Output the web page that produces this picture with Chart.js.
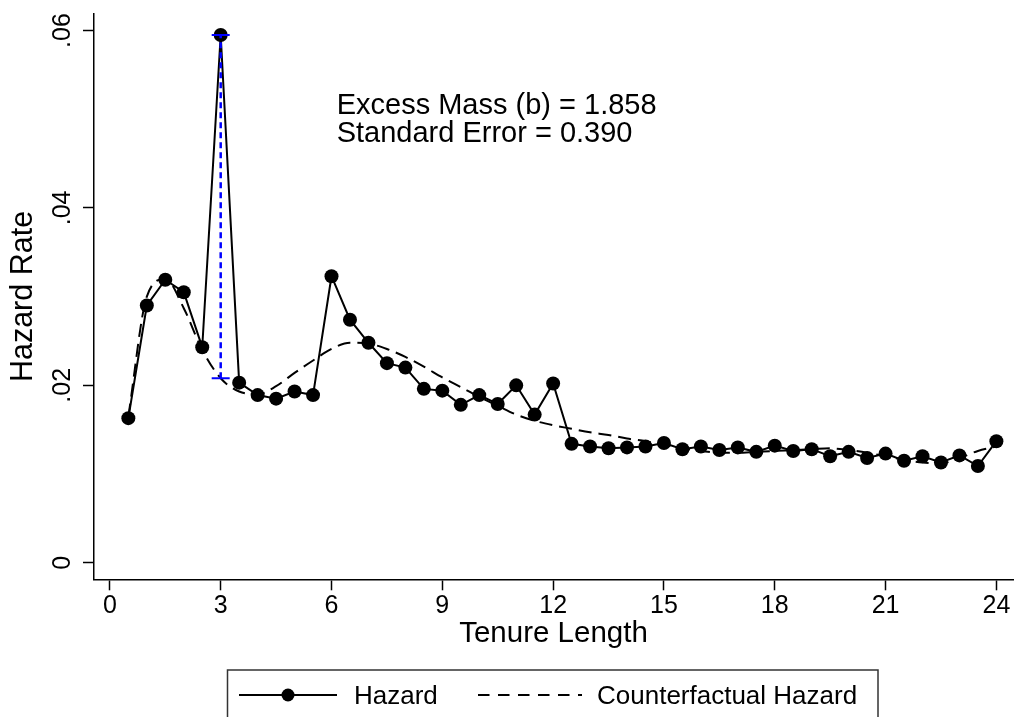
<!DOCTYPE html>
<html lang="en">
<head>
<meta charset="UTF-8">
<title>Hazard Rate by Tenure Length</title>
<script src="https://cdn.jsdelivr.net/npm/chart.js"></script>
<style>
  html, body { margin: 0; padding: 0; background: #fff; }
  .chart-box { width: 1016px; height: 717px; position: relative; }
</style>
</head>
<body>
<div class="chart-box"><canvas id="hazardChart"></canvas></div>
<script>
// tenure bins (x) and the two series
const tenure = [0.5, 1, 1.5, 2, 2.5, 3, 3.5, 4, 4.5, 5, 5.5, 6,
                6.5, 7, 7.5, 8, 8.5, 9, 9.5, 10, 10.5, 11, 11.5, 12,
                12.5, 13, 13.5, 14, 14.5, 15, 15.5, 16, 16.5, 17, 17.5, 18,
                18.5, 19, 19.5, 20, 20.5, 21, 21.5, 22, 22.5, 23, 23.5, 24];
const hazard = [0.0163, 0.0290, 0.0319, 0.0305, 0.0243, 0.0595, 0.0203, 0.0189, 0.0185, 0.0193, 0.0189, 0.0323,
                0.0274, 0.0248, 0.0225, 0.0220, 0.0196, 0.0194, 0.0178, 0.0189, 0.0179, 0.0200, 0.0167, 0.0202,
                0.0134, 0.0131, 0.0129, 0.0130, 0.0131, 0.0135, 0.0128, 0.0131, 0.0127, 0.0130, 0.0125, 0.0132,
                0.0126, 0.0128, 0.0120, 0.0125, 0.0118, 0.0123, 0.0115, 0.0120, 0.0113, 0.0121, 0.0109, 0.0137];
const counterfactual = [0.0165, 0.0300, 0.0320, 0.0287, 0.0240, 0.0208, 0.0193, 0.0190, 0.0199, 0.0214, 0.0228, 0.0241,
                        0.0248, 0.0247, 0.0241, 0.0232, 0.0221, 0.0209, 0.0198, 0.0187, 0.0177, 0.0167, 0.0160, 0.0155,
                        0.0151, 0.0147, 0.0144, 0.0140, 0.0137, 0.0133, 0.0129, 0.0126, 0.0124, 0.0124, 0.0125, 0.0126,
                        0.0127, 0.0128, 0.0129, 0.0127, 0.0124, 0.0120, 0.0116, 0.0113, 0.0112, 0.0118, 0.0126, 0.0131];

const xTicks = [0, 3, 6, 9, 12, 15, 18, 21, 24];
const yTicks = [0, 0.02, 0.04, 0.06];
const yTickLabels = ['0', '.02', '.04', '.06'];

const bunchPoint = 3; // excess mass bin
const noteLines = ['Excess Mass (b) = 1.858', 'Standard Error = 0.390'];
const noteX = 6.14;
const noteY = [0.0506, 0.0474];
const seriesNames = ['Hazard', 'Counterfactual Hazard'];

const FONT = '"Liberation Sans", Arial, Helvetica, sans-serif';
Chart.defaults.font.family = FONT;
Chart.defaults.color = '#000';

const bi = tenure.indexOf(bunchPoint);
const hazardPts = tenure.map((t, i) => ({ x: t, y: hazard[i] }));
const cfPts = tenure.map((t, i) => ({ x: t, y: counterfactual[i] }));
const bunchPts = [{ x: bunchPoint, y: counterfactual[bi] }, { x: bunchPoint, y: hazard[bi] }];

// no extra room for overhanging tick labels, so the plot box matches the figure
function noOverhang(s) {
    s.paddingLeft = 0;
    s.paddingRight = 0;
    s.paddingTop = 0;
    s.paddingBottom = 0;
}

// text note + the boxed key at the bottom
const notesAndKey = {
    id: 'notesAndKey',
    afterDraw(chart) {
        const ctx = chart.ctx;
        const xs = chart.scales.x, ys = chart.scales.y;
        ctx.save();
        ctx.fillStyle = '#000';
        ctx.textBaseline = 'alphabetic';
        ctx.textAlign = 'left';
        ctx.font = '29px ' + FONT;
        noteLines.forEach((txt, i) => {
            ctx.fillText(txt, xs.getPixelForValue(noteX), ys.getPixelForValue(noteY[i]));
        });

        // key box
        ctx.strokeStyle = '#333';
        ctx.lineWidth = 1.5;
        ctx.strokeRect(227.5, 670, 650.5, 80);

        const ly = 695;
        ctx.strokeStyle = '#000';
        ctx.lineWidth = 2;
        ctx.beginPath();
        ctx.moveTo(239, ly); ctx.lineTo(337, ly);
        ctx.stroke();
        ctx.beginPath();
        ctx.arc(288, ly, 6.5, 0, Math.PI * 2);
        ctx.fill();

        ctx.setLineDash([11.5, 8.5]);
        ctx.beginPath();
        ctx.moveTo(478, ly); ctx.lineTo(582, ly);
        ctx.stroke();
        ctx.setLineDash([]);

        ctx.font = '26px ' + FONT;
        ctx.fillText(seriesNames[0], 354, 703.5);
        ctx.fillText(seriesNames[1], 597, 703.5);
        ctx.restore();
    }
};

new Chart(document.getElementById('hazardChart').getContext('2d'), {
    type: 'line',
    data: {
        datasets: [
            {
                label: 'Excess mass',
                data: bunchPts,
                borderColor: '#0000ff',
                borderWidth: 2.5,
                borderDash: [6, 4],
                pointStyle: 'line',
                pointRadius: 9,
                pointBorderWidth: 2,
                pointBorderColor: '#0000ff',
                fill: false
            },
            {
                label: seriesNames[0],
                data: hazardPts,
                borderColor: '#000',
                borderWidth: 2,
                pointRadius: 7,
                pointBackgroundColor: '#000',
                pointBorderColor: '#000',
                pointBorderWidth: 0,
                tension: 0,
                fill: false
            },
            {
                label: seriesNames[1],
                data: cfPts,
                borderColor: '#000',
                borderWidth: 2,
                borderDash: [13, 7],
                pointRadius: 0,
                cubicInterpolationMode: 'monotone',
                fill: false
            }
        ]
    },
    options: {
        responsive: true,
        maintainAspectRatio: false,
        animation: false,
        layout: { autoPadding: false, padding: { left: 0, right: 3, top: 13.7, bottom: 0 } },
        plugins: {
            legend: { display: false },
            tooltip: { enabled: false }
        },
        scales: {
            x: {
                type: 'linear',
                min: -0.43,
                max: 24.45,
                afterBuildTicks: s => { s.ticks = xTicks.map(v => ({ value: v })); },
                afterFit: s => { s.height = 137.7; noOverhang(s); },
                grid: { drawOnChartArea: false, drawTicks: true, tickLength: 11, tickColor: '#000', tickWidth: 1.5 },
                border: { display: true, color: '#000', width: 1.5 },
                ticks: { font: { size: 25 }, padding: 1, maxRotation: 0, autoSkip: false, color: '#000' },
                title: { display: true, text: 'Tenure Length', font: { size: 29.5 }, color: '#000', padding: { top: 0, bottom: 65.4 } }
            },
            y: {
                type: 'linear',
                min: -0.00187,
                max: 0.0619,
                afterBuildTicks: s => { s.ticks = yTicks.map(v => ({ value: v })); },
                afterFit: s => { s.width = 94; noOverhang(s); },
                grid: { drawOnChartArea: false, drawTicks: true, tickLength: 11, tickColor: '#000', tickWidth: 1.5 },
                border: { display: true, color: '#000', width: 1.5 },
                ticks: {
                    font: { size: 25 },
                    padding: 2.3,
                    minRotation: 90,
                    maxRotation: 90,
                    crossAlign: 'center',
                    color: '#000',
                    callback: (v) => yTickLabels[yTicks.indexOf(v)]
                },
                title: { display: true, text: 'Hazard Rate', font: { size: 30.5 }, color: '#000', padding: { top: 5.3, bottom: 0 } }
            }
        }
    },
    plugins: [notesAndKey]
});
</script>
</body>
</html>
